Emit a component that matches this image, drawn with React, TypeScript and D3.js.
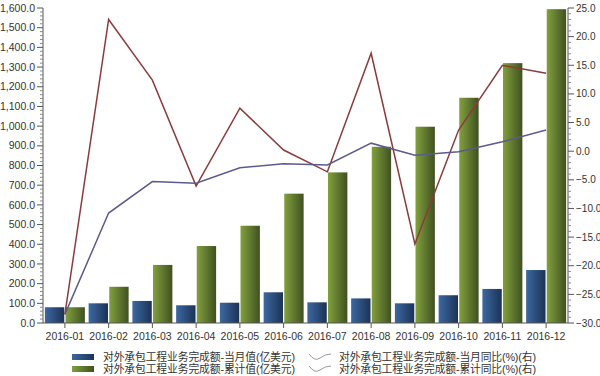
import React from "react";
import * as d3 from "d3";

const categories = ["2016-01","2016-02","2016-03","2016-04","2016-05","2016-06","2016-07","2016-08","2016-09","2016-10","2016-11","2016-12"];
const monthValue = [80, 100, 112, 90, 103, 156, 105, 125, 100, 141, 173, 269];
const cumValue = [80, 184, 295, 391, 494, 657, 765, 895, 997, 1144, 1320, 1594];
const monthYoY = [-28.5, 23.0, 12.4, -6.1, 7.5, 0.2, -3.6, 17.1, -16.2, 3.7, 15.0, 13.6];
const cumYoY = [-28.5, -10.8, -5.3, -5.6, -2.9, -2.2, -2.4, 1.4, -0.7, -0.1, 1.65, 3.7];
const leftTicks = d3.range(0, 1601, 100);
const rightTicks = d3.range(-30, 25.1, 5);
const legendLabels = [
  "对外承包工程业务完成额-当月值(亿美元)",
  "对外承包工程业务完成额-累计值(亿美元)",
  "对外承包工程业务完成额-当月同比(%)(右)",
  "对外承包工程业务完成额-累计同比(%)(右)",
];

const W = 600, H = 376;
const L = 43, R = 568, T = 8, B = 323;
const FONT = "'Liberation Sans', 'Noto Sans CJK SC', sans-serif";
const RED = "#8c3b3b";
const SLATE = "#5b5b8c";

export default function App() {
  const x = d3.scaleBand<string>().domain(categories).range([L, R]).paddingInner(0.086).paddingOuter(0.043);
  const sub = d3.scaleBand<string>().domain(["m", "c"]).range([0, x.bandwidth()]).paddingInner(0.06);
  const yL = d3.scaleLinear().domain([0, 1600]).range([B, T]);
  const yR = d3.scaleLinear().domain([-30, 25]).range([B, T]);
  const cx = (c: string) => (x(c) as number) + x.bandwidth() / 2;
  const line = (vals: number[]) =>
    d3.line<number>().x((_, i) => cx(categories[i])).y((v) => yR(v))(vals) as string;
  const leftMinor = d3.range(0, 1601, 20).filter((v) => v % 100 !== 0);
  const rightMinor = d3.range(-30, 25.1, 1).filter((v) => v % 5 !== 0);
  const fmt = d3.format(",.1f");
  const wave = (x0: number, y0: number) =>
    `M${x0},${y0 - 3} Q${x0 + 6},${y0 + 5} ${x0 + 11},${y0 + 1} T${x0 + 22},${y0 - 3}`;

  return (
    <svg width={W} height={H} style={{ position: "absolute", left: 0, top: 0, background: "#fff" }} fontFamily={FONT}>
      <defs>
        <linearGradient id="gBlue" x1="0" x2="1" y1="0" y2="0">
          <stop offset="0" stopColor="#3d68a0" />
          <stop offset="1" stopColor="#1b3357" />
        </linearGradient>
        <linearGradient id="gGreen" x1="0" x2="1" y1="0" y2="0">
          <stop offset="0" stopColor="#82a03e" />
          <stop offset="1" stopColor="#3f5120" />
        </linearGradient>
      </defs>
      {categories.map((c, i) => (
        <g key={c}>
          <rect x={(x(c) as number) + (sub("m") as number)} y={yL(monthValue[i])} width={sub.bandwidth()} height={B - yL(monthValue[i])} fill="url(#gBlue)" />
          <rect x={(x(c) as number) + (sub("c") as number)} y={yL(cumValue[i])} width={sub.bandwidth()} height={B - yL(cumValue[i])} fill="url(#gGreen)" />
        </g>
      ))}
      <path d={line(monthYoY)} fill="none" stroke={RED} strokeWidth={1.5} />
      <path d={line(cumYoY)} fill="none" stroke={SLATE} strokeWidth={1.5} />
      {/* left axis */}
      <line x1={L} x2={L} y1={T} y2={B} stroke="#555" />
      {leftMinor.map((v) => (
        <line key={"lm" + v} x1={L - 3} x2={L} y1={yL(v)} y2={yL(v)} stroke="#888" />
      ))}
      {leftTicks.map((v) => (
        <g key={"lt" + v}>
          <line x1={L - 6} x2={L} y1={yL(v)} y2={yL(v)} stroke="#555" />
          <text x={L - 8} y={yL(v)} dy="0.35em" textAnchor="end" fontSize={10.5} fill="#333">{fmt(v)}</text>
        </g>
      ))}
      {/* right axis */}
      <line x1={R} x2={R} y1={T} y2={B} stroke="#555" />
      {rightMinor.map((v) => (
        <line key={"rm" + v} x1={R} x2={R + 3} y1={yR(v)} y2={yR(v)} stroke="#888" />
      ))}
      {rightTicks.map((v) => (
        <g key={"rt" + v}>
          <line x1={R} x2={R + 6} y1={yR(v)} y2={yR(v)} stroke="#555" />
          <text x={R + 8} y={yR(v)} dy="0.35em" textAnchor="start" fontSize={10} fill="#333">{d3.format(".1f")(v)}</text>
        </g>
      ))}
      {/* x axis */}
      <line x1={L} x2={R} y1={B} y2={B} stroke="#555" />
      {categories.map((c) => (
        <g key={"xt" + c}>
          <line x1={cx(c)} x2={cx(c)} y1={B} y2={B + 5} stroke="#555" />
          <text x={cx(c)} y={B + 17} textAnchor="middle" fontSize={10.5} fill="#333">{c}</text>
        </g>
      ))}
      {/* legend */}
      <g fontSize={10.8} fill="#333">
        <rect x={72} y={354} width={22} height={6} fill="url(#gBlue)" />
        <text x={103} y={361} textLength={192} lengthAdjust="spacing">{legendLabels[0]}</text>
        <rect x={72} y={366} width={22} height={6} fill="url(#gGreen)" />
        <text x={103} y={373} textLength={192} lengthAdjust="spacing">{legendLabels[1]}</text>
        <path d={wave(309, 357)} fill="none" stroke="#999" strokeWidth={1} />
        <text x={339} y={361} textLength={197} lengthAdjust="spacing">{legendLabels[2]}</text>
        <path d={wave(309, 369)} fill="none" stroke="#999" strokeWidth={1} />
        <text x={339} y={373} textLength={197} lengthAdjust="spacing">{legendLabels[3]}</text>
      </g>
    </svg>
  );
}
